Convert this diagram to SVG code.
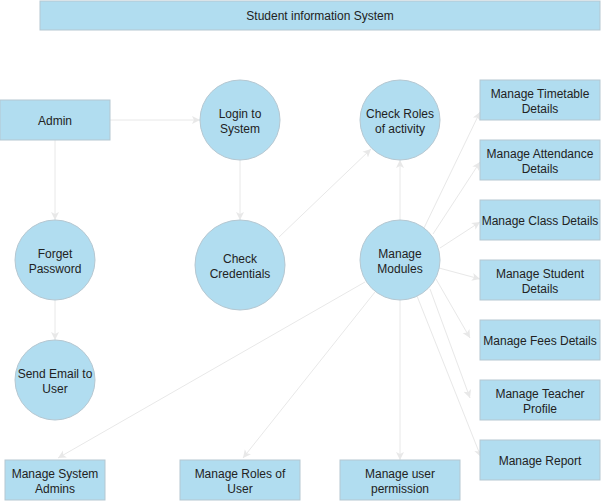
<svg xmlns="http://www.w3.org/2000/svg" width="601" height="501" viewBox="0 0 601 501">
<style>
.n{fill:#b1ddf0;stroke:#b5c7d1;stroke-width:1}
.t{font-family:"Liberation Sans",Arial,sans-serif;font-size:12px;fill:#222;text-anchor:middle}
.e{stroke:#e8e8e8;stroke-width:1;fill:none;marker-end:url(#a)}
</style>
<defs>
<marker id="a" markerUnits="userSpaceOnUse" markerWidth="10" markerHeight="10" refX="8" refY="4" orient="auto" viewBox="0 0 10 8">
<path d="M0,0 L8,4 L0,8 L2,4 z" fill="#e8e8e8"/>
</marker>
</defs>
<rect width="601" height="501" fill="#ffffff"/>
<g id="connectors">
<line class="e" x1="110" y1="120" x2="200" y2="120"/>
<line class="e" x1="55" y1="140" x2="55" y2="220"/>
<line class="e" x1="55" y1="300" x2="55" y2="340"/>
<line class="e" x1="240" y1="160" x2="240" y2="220"/>
<line class="e" x1="279" y1="237" x2="371" y2="149"/>
<line class="e" x1="400" y1="220" x2="400" y2="160"/>
<line class="e" x1="424" y1="228" x2="480" y2="112"/>
<line class="e" x1="433" y1="234" x2="480" y2="162"/>
<line class="e" x1="440" y1="248" x2="480" y2="222"/>
<line class="e" x1="439" y1="268" x2="480" y2="279"/>
<line class="e" x1="436" y1="279" x2="470" y2="338"/>
<line class="e" x1="430" y1="289" x2="470" y2="398"/>
<line class="e" x1="417" y1="296" x2="481" y2="457"/>
<line class="e" x1="400" y1="300" x2="400" y2="460"/>
<line class="e" x1="375" y1="292" x2="243" y2="458"/>
<line class="e" x1="365" y1="282" x2="58" y2="458"/>
</g>
<g id="title"><rect class="n" x="40" y="1" width="560" height="29"/><text class="t" x="320" y="20">Student information System</text></g>
<g id="admin"><rect class="n" x="0" y="100" width="110" height="40"/><text class="t" x="55" y="125">Admin</text></g>
<g id="login"><circle class="n" cx="240" cy="120" r="40"/><text class="t" x="240" y="118">Login to</text><text class="t" x="240" y="133">System</text></g>
<g id="forget"><circle class="n" cx="55" cy="260" r="40"/><text class="t" x="55" y="258">Forget</text><text class="t" x="55" y="273">Password</text></g>
<g id="sendemail"><circle class="n" cx="55" cy="380" r="40"/><text class="t" x="55" y="378">Send Email to</text><text class="t" x="55" y="393">User</text></g>
<g id="checkcred"><circle class="n" cx="240" cy="265" r="45"/><text class="t" x="240" y="263">Check</text><text class="t" x="240" y="278">Credentials</text></g>
<g id="checkroles"><circle class="n" cx="400" cy="120" r="40"/><text class="t" x="400" y="118">Check Roles</text><text class="t" x="400" y="133">of activity</text></g>
<g id="modules"><circle class="n" cx="400" cy="260" r="40"/><text class="t" x="400" y="258">Manage</text><text class="t" x="400" y="273">Modules</text></g>
<g id="timetable"><rect class="n" x="480" y="80" width="120" height="40"/><text class="t" x="540" y="98">Manage Timetable</text><text class="t" x="540" y="113">Details</text></g>
<g id="attendance"><rect class="n" x="480" y="140" width="120" height="40"/><text class="t" x="540" y="158">Manage Attendance</text><text class="t" x="540" y="173">Details</text></g>
<g id="class"><rect class="n" x="480" y="200" width="120" height="40"/><text class="t" x="540" y="225">Manage Class Details</text></g>
<g id="student"><rect class="n" x="480" y="260" width="120" height="40"/><text class="t" x="540" y="278">Manage Student</text><text class="t" x="540" y="293">Details</text></g>
<g id="fees"><rect class="n" x="480" y="320" width="120" height="40"/><text class="t" x="540" y="345">Manage Fees Details</text></g>
<g id="teacher"><rect class="n" x="480" y="380" width="120" height="40"/><text class="t" x="540" y="398">Manage Teacher</text><text class="t" x="540" y="413">Profile</text></g>
<g id="report"><rect class="n" x="480" y="440" width="120" height="40"/><text class="t" x="540" y="465">Manage Report</text></g>
<g id="sysadmins"><rect class="n" x="5" y="460" width="100" height="40"/><text class="t" x="55" y="478">Manage System</text><text class="t" x="55" y="493">Admins</text></g>
<g id="roles"><rect class="n" x="180" y="460" width="120" height="40"/><text class="t" x="240" y="478">Manage Roles of</text><text class="t" x="240" y="493">User</text></g>
<g id="permission"><rect class="n" x="340" y="460" width="120" height="40"/><text class="t" x="400" y="478">Manage user</text><text class="t" x="400" y="493">permission</text></g>
</svg>
